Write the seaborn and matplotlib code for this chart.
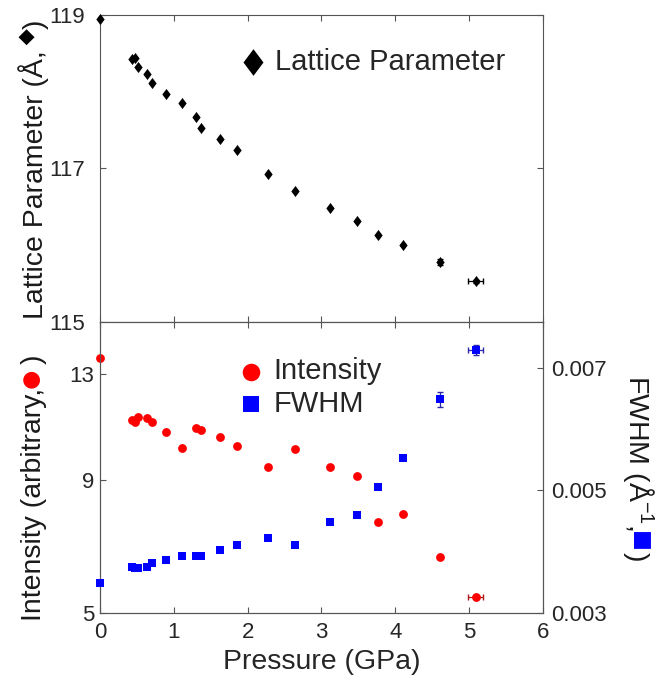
import numpy as np
import pandas as pd
import seaborn as sns
import matplotlib.pyplot as plt
from matplotlib.path import Path

# values
pressure = [0.00, 0.43, 0.47, 0.52, 0.63, 0.71, 0.90, 1.11, 1.30, 1.37,
            1.63, 1.85, 2.27, 2.64, 3.11, 3.48, 3.76, 4.11, 4.60, 5.09]
lattice = [118.95, 118.42, 118.43, 118.32, 118.23, 118.11, 117.97, 117.85, 117.67, 117.52,
           117.38, 117.24, 116.93, 116.71, 116.48, 116.31, 116.13, 116.00, 115.78, 115.53]
intensity = [13.68, 11.18, 11.11, 11.31, 11.24, 11.11, 10.73, 10.12, 10.89, 10.80,
             10.52, 10.20, 9.45, 10.08, 9.46, 9.13, 7.61, 7.85, 6.54, 5.40]
fwhm = [0.00348, 0.00375, 0.00373, 0.00373, 0.00374, 0.00381, 0.00387, 0.00392, 0.00392, 0.00393,
        0.00403, 0.00410, 0.00423, 0.00411, 0.00449, 0.00460, 0.00506, 0.00553, 0.00649, 0.00730]
pressure_err = [0]*18 + [0.0, 0.10]
lattice_err = [0]*18 + [0.04, 0.02]
fwhm_err = [0]*18 + [0.00013, 0.00008]

x_ticks = [0, 1, 2, 3, 4, 5, 6]
lattice_ticks = [115, 117, 119]
intensity_ticks = [5, 9, 13]
fwhm_ticks = [0.003, 0.005, 0.007]

sns.set_theme(style='ticks')
plt.rcParams['font.family'] = ['Liberation Sans', 'DejaVu Sans']
plt.rcParams['mathtext.fontset'] = 'custom'
plt.rcParams['mathtext.rm'] = 'Liberation Sans'
plt.rcParams['mathtext.it'] = 'Liberation Sans:italic'
plt.rcParams['axes.edgecolor'] = '#555555'
plt.rcParams['axes.linewidth'] = 0.8

df = pd.DataFrame({'pressure': pressure, 'lattice': lattice, 'intensity': intensity,
                   'fwhm': fwhm, 'p_err': pressure_err, 'l_err': lattice_err, 'f_err': fwhm_err})
err = df[(df.p_err > 0) | (df.l_err > 0) | (df.f_err > 0)]

diamond = Path([(0, 1), (0.75, 0), (0, -1), (-0.75, 0), (0, 1)],
               [Path.MOVETO, Path.LINETO, Path.LINETO, Path.LINETO, Path.CLOSEPOLY])

W, H = 660, 692
fig = plt.figure(figsize=(6.6, 6.92), dpi=100)
ax_top = fig.add_axes([0.1515, 0.5347, 0.6712, 0.4441])
ax_bot = fig.add_axes([0.1515, 0.1146, 0.6712, 0.4201])
ax_r = ax_bot.twinx()

red, blue = '#ff0000', '#0000ff'
tick_kw = dict(direction='in', length=4, width=0.8, color='#555555',
               labelsize=16, labelcolor='#262626')

# top panel: lattice parameter
ax_top.errorbar(err.pressure, err.lattice, xerr=err.p_err, yerr=err.l_err, fmt='none',
                ecolor='black', elinewidth=0.9, capsize=2.5, zorder=2)
sns.scatterplot(data=df, x='pressure', y='lattice', ax=ax_top, marker=diamond, s=64,
                color='black', linewidth=0, label='Lattice Parameter', legend=False, zorder=3,
                clip_on=False)
ax_top.set_xlim(0, 6)
ax_top.set_ylim(115, 119)
ax_top.set_xticks(x_ticks)
ax_top.set_yticks(lattice_ticks)
ax_top.tick_params(**tick_kw, top=True, right=True, labelbottom=False)
ax_top.tick_params(axis='y', pad=11)
ax_top.set_xlabel('')
ax_top.set_ylabel('')
ax_top.legend(loc='center left', bbox_to_anchor=(0.312, 0.846), frameon=False,
              fontsize=21, markerscale=2.4, handlelength=1.0, handletextpad=0.25,
              borderpad=0, borderaxespad=0)

# bottom panel: intensity (left, sqrt scale) and FWHM (right)
ax_bot.errorbar(err.pressure, err.intensity, xerr=err.p_err, fmt='none',
                ecolor='#b01818', elinewidth=0.9, capsize=2.5, zorder=2)
sns.scatterplot(data=df, x='pressure', y='intensity', ax=ax_bot, marker='o', s=40,
                color=red, linewidth=0, label='Intensity', legend=False, zorder=3, clip_on=False)
ax_bot.set_yscale('function', functions=(np.sqrt, np.square))
ax_bot.set_xlim(0, 6)
ax_bot.set_ylim(5, 15.26)
ax_bot.set_xticks(x_ticks)
ax_bot.set_yticks(intensity_ticks)
ax_bot.set_yticklabels([str(t) for t in intensity_ticks])
ax_bot.yaxis.set_minor_locator(plt.NullLocator())
ax_bot.tick_params(**tick_kw, top=True)
ax_bot.tick_params(axis='y', pad=4)
ax_bot.tick_params(axis='x', pad=7)
ax_bot.set_ylabel('')
ax_bot.set_xlabel('Pressure (GPa)', fontsize=20.5, color='#262626', labelpad=4)

ax_r.errorbar(err.pressure, err.fwhm, xerr=err.p_err, yerr=err.f_err, fmt='none',
              ecolor='#2a2aa8', elinewidth=0.9, capsize=2.5, zorder=2)
sns.scatterplot(data=df, x='pressure', y='fwhm', ax=ax_r, marker='s', s=34,
                color=blue, linewidth=0, label='FWHM', legend=False, zorder=3, clip_on=False)
ax_r.set_ylim(0.003, 0.007758)
ax_r.set_yticks(fwhm_ticks)
ax_r.set_yticklabels(['0.003', '0.005', '0.007'])
ax_r.tick_params(**tick_kw)
ax_r.tick_params(axis='y', pad=6)
ax_r.set_ylabel('')

h1, l1 = ax_bot.get_legend_handles_labels()
h2, l2 = ax_r.get_legend_handles_labels()
ax_r.legend(h1 + h2, l1 + l2, loc='center left', bbox_to_anchor=(0.309, 0.775), frameon=False,
            fontsize=21, markerscale=2.0, handlelength=1.0, handletextpad=0.25,
            labelspacing=0.15, borderpad=0, borderaxespad=0)

# rotated axis labels with coloured marker glyphs, built piece by piece
renderer = fig.canvas.get_renderer()


def text_width(text, size):
    t = fig.text(0, 0, text, fontsize=size)
    w = t.get_window_extent(renderer).width
    t.remove()
    return w


def piece_label(pieces, x_px, y_px, rotation):
    y = y_px
    for text, color, size, rise, adv in pieces:
        x = x_px - rise if rotation == 90 else x_px + rise
        fig.text(x / W, y / H, text, rotation=rotation, rotation_mode='anchor',
                 ha='left', va='baseline', color=color, fontsize=size)
        w = adv if adv else text_width(text, size)
        y = y + w if rotation == 90 else y - w


piece_label([('Lattice Parameter (Å,', '#1a1a1a', 20.4, 0, None), (' ◆', 'black', 15, 10, 21),
             (')', '#1a1a1a', 20.4, 0, None)], 43, H - 319, 90)
piece_label([('Intensity (arbitrary,', '#1a1a1a', 20.5, 0, None), ('●', red, 28, 0, None),
             (')', '#1a1a1a', 20.5, 0, None)], 41, H - 621, 90)
piece_label([('FWHM (Å$^{-1}$,', '#1a1a1a', 20.5, 0, None), ('■', blue, 25, 0, None),
             (')', '#1a1a1a', 20.5, 0, None)], 629, H - 375, -90)

fig.savefig('out.png', dpi=100)
